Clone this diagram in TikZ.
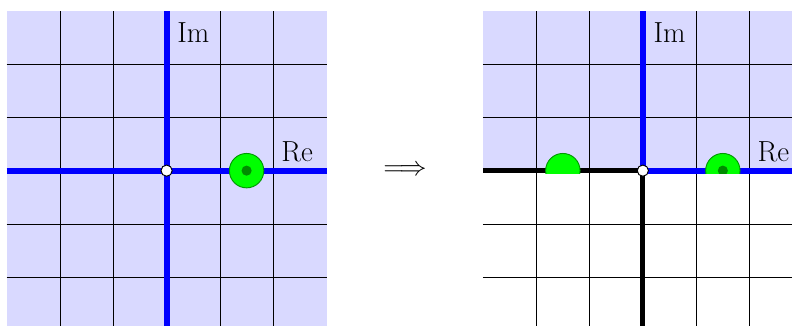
\documentclass[tikz,border=0pt]{standalone}
\begin{document}
\begin{tikzpicture}[
  gridline/.style={black, line width=0.45pt},
  axisblue/.style={blue, line width=0.11cm},
  axisblack/.style={black, line width=0.09cm},
  pole/.style={circle, fill=green, draw=green!60!black, line width=0.5pt, minimum size=0.645cm, inner sep=0pt},
  poledot/.style={fill=green!55!black},
  origin/.style={circle, fill=white, draw=black, line width=0.5pt, minimum size=0.21cm, inner sep=0pt},
  lbl/.style={font=\fontsize{15.5}{18}\selectfont, inner sep=0pt}
]
\useasboundingbox (-3.124,-2.912) rectangle (11.727,3.2);
\clip (-3.124,-2.912) rectangle (11.727,3.2);
% ---------------- left plane ----------------
\fill[blue!15] (-3,-3) rectangle (3,3);
\foreach \k in {-2,-1,1,2} {
  \draw[gridline] (\k,-3) -- (\k,3);
  \draw[gridline] (-3,\k) -- (3,\k);
}
\coordinate (lW) at (-3,0);
\coordinate (lE) at (3,0);
\coordinate (lS) at (0,-3);
\coordinate (lN) at (0,3);
\draw[axisblue] (lW) -- (lE);
\draw[axisblue] (lS) -- (lN);
\node[pole] (p1) at (1.5,0) {};
\fill[poledot] (p1.center) circle (0.095);
\node[origin] (o1) at (0,0) {};
\node[lbl] (im1) at (0.5,2.58) {Im};
\node[lbl] (re1) at (2.45,0.36) {Re};
% ---------------- arrow ----------------
\node[lbl] (imp) at (4.47,0) {$\Longrightarrow$};
% ---------------- right plane ----------------
\begin{scope}[xshift=8.93cm]
\fill[blue!15] (-3,0) rectangle (3,3);
\foreach \k in {-2,-1,1,2} {
  \draw[gridline] (\k,-3) -- (\k,3);
  \draw[gridline] (-3,\k) -- (3,\k);
}
\coordinate (rW) at (-3,0);
\coordinate (rE) at (3,0);
\coordinate (rS) at (0,-3);
\coordinate (rN) at (0,3);
\coordinate (rO) at (0,0);
\draw[axisblack] (rW) -- (rO);
\draw[axisblack] (rO) -- (rS);
\draw[axisblue] (rO) -- (rE);
\draw[axisblue] (rO) -- (rN);
\begin{scope}
  \clip (-3,-0.06) rectangle (3,3);
  \node[pole] (p2) at (-1.5,0) {};
  \node[pole] (p3) at (1.5,0) {};
  \fill[poledot] (p3.center) circle (0.095);
\end{scope}
\node[origin] (o2) at (0,0) {};
\node[lbl] (im2) at (0.5,2.58) {Im};
\node[lbl] (re2) at (2.45,0.36) {Re};
\end{scope}
\end{tikzpicture}
\end{document}
